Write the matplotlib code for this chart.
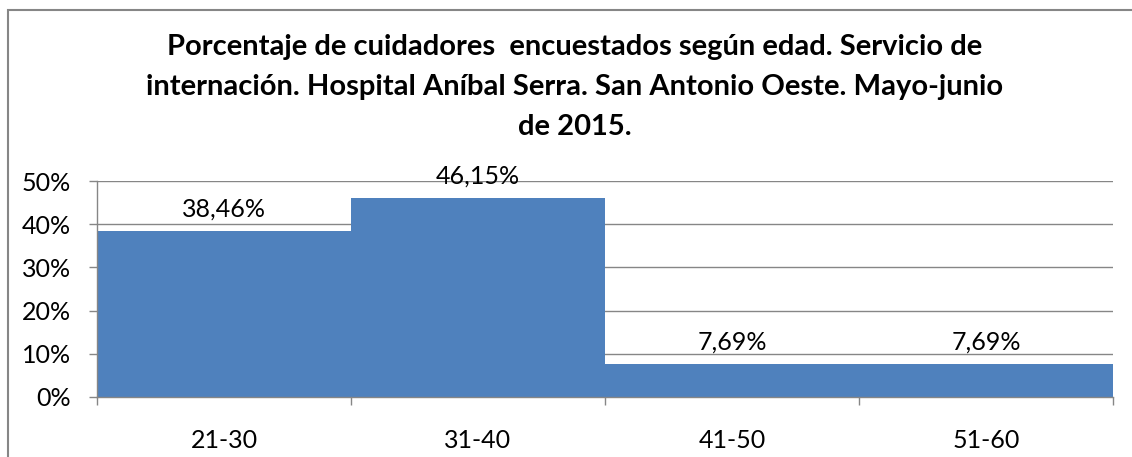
import matplotlib.pyplot as plt
from matplotlib.patches import Rectangle

categories = ["21-30", "31-40", "41-50", "51-60"]
values = [38.46, 46.15, 7.69, 7.69]
labels = ["38,46%", "46,15%", "7,69%", "7,69%"]
y_ticks = [0, 10, 20, 30, 40, 50]
y_tick_labels = ["0%", "10%", "20%", "30%", "40%", "50%"]

title = ("Porcentaje de cuidadores  encuestados según edad. Servicio de\n"
         "internación. Hospital Aníbal Serra. San Antonio Oeste. Mayo-junio\n"
         "de 2015.")

plt.rcParams['font.family'] = ['Lato', 'DejaVu Sans']

fig = plt.figure(figsize=(11.32, 4.57), dpi=100)
ax = fig.add_axes([0.0857, 0.1313, 0.8975, 0.4726])

grid_col = "#868686"
ax.set_ylim(0, 50)
ax.set_xlim(-0.5, len(categories) - 0.5)
ax.set_yticks(y_ticks)
ax.set_yticklabels(y_tick_labels, fontsize=18)
for y in y_ticks[1:]:
    ax.axhline(y, color=grid_col, lw=1, zorder=0)

x = list(range(len(categories)))
ax.bar(x, values, width=1.0, color="#4F81BD", zorder=2)
for xi, v, lab in zip(x, values, labels):
    ax.annotate(lab, (xi, v), xytext=(0, 7.5), textcoords="offset points",
                ha="center", va="bottom", fontsize=18)

ax.set_xticks(x)
ax.set_xticklabels(categories, fontsize=18)
ax.tick_params(axis="x", length=0, pad=23)
ax.set_xticks([i - 0.5 for i in range(len(categories) + 1)], minor=True)
ax.tick_params(axis="x", which="minor", length=6, color=grid_col, width=1)
ax.tick_params(axis="y", length=6, color=grid_col, width=1, pad=13)

for s in ["top", "right"]:
    ax.spines[s].set_visible(False)
for s in ["left", "bottom"]:
    ax.spines[s].set_color(grid_col)
    ax.spines[s].set_linewidth(1)
    ax.spines[s].set_zorder(3)

fig.text(0.508, 0.81, title, ha="center", va="center", fontsize=21,
         fontweight="bold", linespacing=1.68)

# chart border (top and left visible, others off-canvas)
fig.patches.append(Rectangle((8 / 1132, -0.05), 1.2, 1 - 10 / 457 + 0.05,
                             transform=fig.transFigure, fill=False,
                             edgecolor=grid_col, lw=1.5))

fig.savefig("out.png", dpi=100)
